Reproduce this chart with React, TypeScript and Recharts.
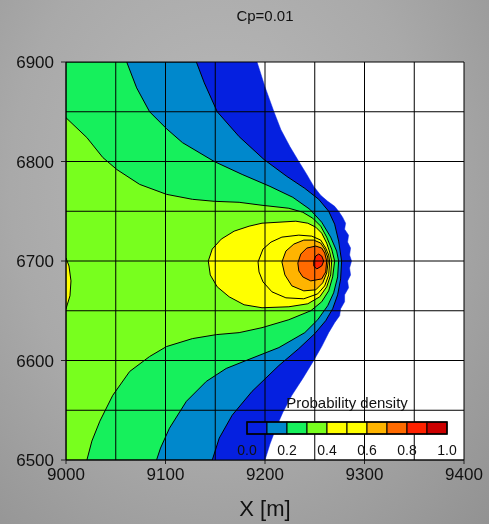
import React from 'react';
import { ScatterChart, Scatter, XAxis, YAxis, ReferenceLine, CartesianGrid } from 'recharts';

const title = 'Cp=0.01';
const xLabel = 'X [m]';
const legendTitle = 'Probability density';
const xTicks = [9000, 9100, 9200, 9300, 9400];
const yTicks = [6500, 6600, 6700, 6800, 6900];
const xGrid = [9000, 9050, 9100, 9150, 9200, 9250, 9300, 9350, 9400];
const yGrid = [6500, 6550, 6600, 6650, 6700, 6750, 6800, 6850, 6900];
const legendLabels = ['0.0', '0.2', '0.4', '0.6', '0.8', '1.0'];
const levelColors = [
  '#0520E0', '#0088CC', '#16F05C', '#78FF1E', '#FFFF00',
  '#FFFF00', '#FFB400', '#FF6A00', '#FF2200', '#CC0000',
];

// contour polygons (superlevel sets), in data units [x, y]
const level00 = [
  [9000, 6900], [9192, 6900], [9200, 6875], [9209, 6850], [9216, 6832], [9225, 6815],
  [9234, 6800], [9242, 6787], [9249, 6775], [9256, 6766], [9263, 6760], [9270, 6755],
  [9274, 6750], [9278, 6744], [9281, 6738], [9280, 6732], [9284, 6726], [9283, 6719],
  [9286, 6713], [9285, 6706], [9287, 6700], [9285, 6693], [9286, 6686], [9283, 6680],
  [9284, 6673], [9280, 6666], [9280, 6659], [9276, 6652], [9275, 6645], [9270, 6638],
  [9264, 6628], [9257, 6614], [9249, 6600], [9238, 6582], [9227, 6565], [9218, 6548],
  [9211, 6532], [9205, 6516], [9200, 6500], [9000, 6500],
];
const level01 = [
  [9000, 6900], [9131, 6900], [9139, 6879], [9152, 6850], [9174, 6825], [9199, 6802],
  [9222, 6785], [9240, 6773], [9254, 6762], [9264, 6750], [9270, 6737], [9274, 6720],
  [9277, 6700], [9276, 6682], [9273, 6666], [9268, 6652], [9261, 6640], [9250, 6627],
  [9234, 6612], [9214, 6595], [9187, 6569], [9167, 6545], [9154, 6522], [9147, 6500],
  [9000, 6500],
];
const level02 = [
  [9000, 6900], [9061, 6900], [9071, 6874], [9084, 6850], [9101, 6833], [9117, 6819],
  [9149, 6800], [9177, 6787], [9205, 6775], [9228, 6764], [9245, 6752], [9257, 6739],
  [9266, 6724], [9272, 6710], [9274, 6700], [9273, 6684], [9269, 6668], [9263, 6655],
  [9253, 6641], [9240, 6628], [9214, 6613], [9181, 6600], [9161, 6592], [9141, 6579],
  [9121, 6559], [9104, 6532], [9095, 6512], [9091, 6500], [9000, 6500],
];
const level03 = [
  [9000, 6844], [9021, 6824], [9037, 6804], [9051, 6792], [9074, 6777], [9101, 6767],
  [9127, 6762], [9149, 6760], [9174, 6759], [9197, 6756], [9224, 6753], [9238, 6749],
  [9248, 6743], [9256, 6735], [9262, 6724], [9267, 6712], [9270, 6700], [9268, 6684],
  [9264, 6670], [9257, 6659], [9246, 6650], [9224, 6641], [9197, 6633], [9174, 6628],
  [9151, 6626], [9127, 6622], [9101, 6614], [9084, 6604], [9064, 6589], [9047, 6565],
  [9034, 6539], [9026, 6519], [9021, 6500], [9000, 6500],
];
const level04 = [
  [9143, 6700], [9147, 6712], [9156, 6722], [9169, 6730], [9184, 6735], [9197, 6738],
  [9231, 6740], [9243, 6738], [9251, 6734], [9257, 6728], [9262, 6718], [9265, 6709],
  [9267, 6700], [9266, 6686], [9262, 6674], [9255, 6664], [9243, 6657], [9224, 6654],
  [9197, 6653], [9179, 6656], [9164, 6664], [9152, 6674], [9145, 6686],
];
const level04Edge = [
  [9000, 6703], [9003, 6695], [9005, 6680], [9004, 6665], [9000, 6652],
];
const level05 = [
  [9193, 6699], [9198, 6712], [9206, 6719], [9217, 6724], [9234, 6726], [9247, 6725],
  [9256, 6721], [9261, 6713], [9264, 6706], [9265, 6699], [9264, 6686], [9260, 6675],
  [9253, 6667], [9239, 6662], [9221, 6663], [9207, 6669], [9198, 6679], [9194, 6689],
];
const level06 = [
  [9217, 6699], [9221, 6710], [9229, 6717], [9239, 6721], [9249, 6721], [9256, 6718],
  [9260, 6712], [9263, 6704], [9263.5, 6699], [9262, 6688], [9258, 6678], [9251, 6671],
  [9239, 6670], [9227, 6675], [9220, 6686],
];
const level07 = [
  [9233, 6698], [9236, 6707], [9242, 6713], [9251, 6715], [9257, 6713], [9260, 6708],
  [9262, 6700], [9261, 6689], [9257, 6682], [9246, 6680], [9238, 6684], [9234, 6690],
];
const level08 = [
  [9249, 6700], [9251, 6705], [9254, 6707], [9257, 6705], [9259, 6700], [9257, 6695],
  [9252, 6692], [9249, 6695],
];

const contours: { pts: number[][]; level: number; outline: boolean }[] = [
  { pts: level00, level: 0, outline: false },
  { pts: level01, level: 1, outline: true },
  { pts: level02, level: 2, outline: true },
  { pts: level03, level: 3, outline: true },
  { pts: level04, level: 4, outline: true },
  { pts: level04Edge, level: 4, outline: true },
  { pts: level05, level: 5, outline: true },
  { pts: level06, level: 6, outline: true },
  { pts: level07, level: 7, outline: true },
  { pts: level08, level: 8, outline: true },
];

const toPts = (a: number[][]) => a.map(([x, y]) => ({ x, y }));

const FONT = '"Liberation Sans", Arial, sans-serif';
const noTick = () => <g />;

export default function App() {
  return (
    <div
      style={{
        position: 'fixed',
        left: 0,
        top: 0,
        width: 489,
        height: 524,
        overflow: 'hidden',
        background: 'radial-gradient(ellipse at 45% 35%, #bababa 0%, #a9a9a9 55%, #929292 100%)',
        fontFamily: FONT,
      }}
    >
      <div
        style={{
          position: 'absolute',
          left: 66,
          top: 7,
          width: 398,
          textAlign: 'center',
          fontSize: 15,
          lineHeight: '17px',
          color: '#111',
        }}
      >
        {title}
      </div>
      <ScatterChart
        width={489}
        height={524}
        margin={{ top: 62, right: 25, bottom: 0, left: 0 }}
        style={{ position: 'absolute', left: 0, top: 0 }}
      >
        <CartesianGrid horizontal={false} vertical={false} fill="#ffffff" fillOpacity={1} />
        <XAxis
          type="number"
          dataKey="x"
          domain={[9000, 9400]}
          ticks={xTicks}
          allowDataOverflow
          height={64}
          tickSize={4}
          tickMargin={4}
          interval={0}
          stroke="#222"
          tick={{ fill: '#111', fontSize: 17, fontFamily: FONT }}
          label={{ value: xLabel, position: 'insideBottom', offset: 8, fill: '#111', fontSize: 22, fontFamily: FONT }}
        />
        <XAxis
          xAxisId="top"
          orientation="top"
          type="number"
          domain={[9000, 9400]}
          ticks={xTicks}
          allowDataOverflow
          height={0}
          tickSize={4}
          stroke="#222"
          tick={noTick}
        />
        <YAxis
          type="number"
          dataKey="y"
          domain={[6500, 6900]}
          ticks={yTicks}
          allowDataOverflow
          width={66}
          tickSize={5}
          tickMargin={7}
          interval={0}
          stroke="#222"
          tick={{ fill: '#111', fontSize: 17, fontFamily: FONT }}
        />
        <YAxis
          yAxisId="right"
          orientation="right"
          type="number"
          domain={[6500, 6900]}
          ticks={yTicks}
          allowDataOverflow
          width={0}
          tickSize={4}
          stroke="#222"
          tick={noTick}
        />
        {contours.map((c, i) => (
          <Scatter
            key={'c' + i}
            data={toPts(c.pts)}
            fill={levelColors[c.level]}
            isAnimationActive={false}
            legendType="none"
            line={{
              fill: levelColors[c.level],
              stroke: c.outline ? '#000' : levelColors[c.level],
              strokeWidth: c.outline ? 1 : 0.5,
            }}
            lineType="joint"
            lineJointType="linearClosed"
            shape={noTick}
          />
        ))}
        {xGrid.map((v) => (
          <ReferenceLine key={'gx' + v} x={v} stroke="#000" strokeWidth={1} zIndex={700} />
        ))}
        {yGrid.map((v) => (
          <ReferenceLine key={'gy' + v} y={v} stroke="#000" strokeWidth={1} zIndex={700} />
        ))}
      </ScatterChart>
      <svg
        width={489}
        height={524}
        style={{ position: 'absolute', left: 0, top: 0, pointerEvents: 'none' }}
      >
        <text x={347} y={408} textAnchor="middle" fontSize={15} fill="#111" fontFamily={FONT}>
          {legendTitle}
        </text>
        {levelColors.map((col, i) => (
          <rect key={'lc' + i} x={247 + i * 20} y={422} width={20} height={12} fill={col} stroke="#000" strokeWidth={1} />
        ))}
        <rect x={247} y={422} width={200} height={12} fill="none" stroke="#000" strokeWidth={1.5} />
        {legendLabels.map((l, i) => (
          <text key={'ll' + i} x={247 + i * 40} y={455} textAnchor="middle" fontSize={14} fill="#111" fontFamily={FONT}>
            {l}
          </text>
        ))}
      </svg>
    </div>
  );
}
